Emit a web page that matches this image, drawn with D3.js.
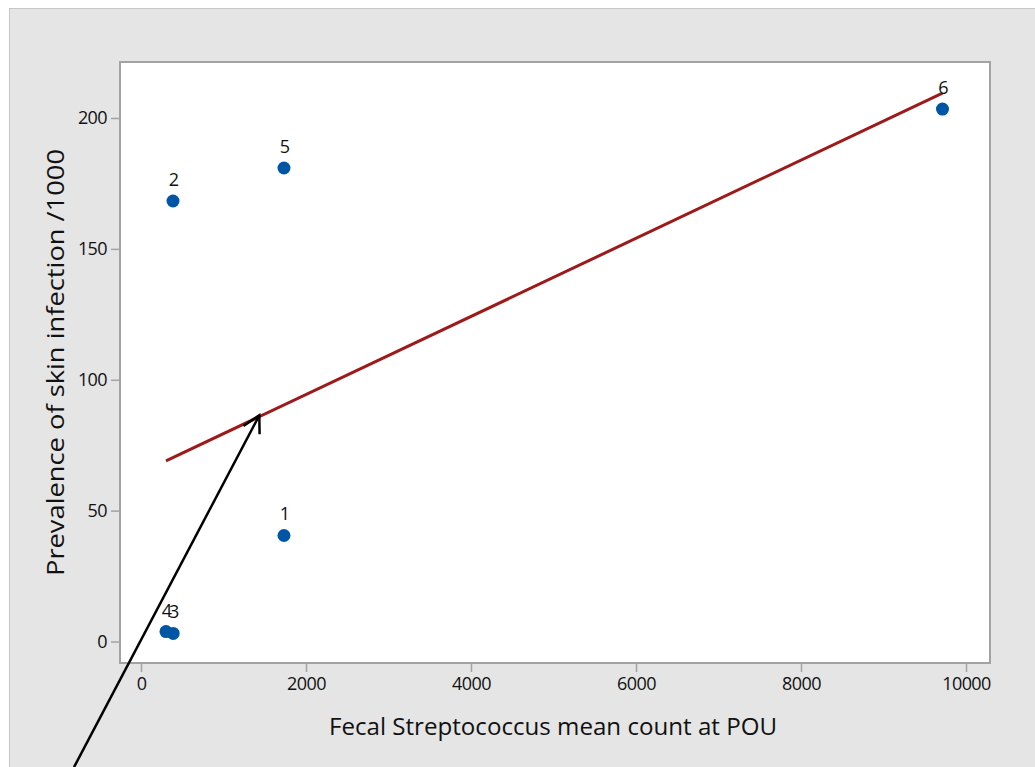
<!DOCTYPE html>
<html><head><meta charset="utf-8">
<script src="https://cdn.jsdelivr.net/npm/d3@7"></script>
<style>html,body{margin:0;padding:0;background:#fff;}svg{display:block;}</style>
</head><body>
<script>
// Data
const pointIds = ["1", "2", "3", "4", "5", "6"];
const xValues = [1733, 388, 390, 303, 1733, 9715];
const yValues = [40.5, 168.3, 3.1, 3.8, 180.9, 203.4];
const fitX = [303, 9715];
const fitY = [69, 209.5];
const xTicks = [0, 2000, 4000, 6000, 8000, 10000];
const yTicks = [0, 50, 100, 150, 200];
const arrowFrom = [-812, -48];
const arrowTo = [1434, 86.4];
const xTitle = "Fecal Streptococcus mean count at POU";
const yTitle = "Prevalence of skin infection /1000";

const W = 1035, H = 767;
const plot = {l: 120, r: 990, t: 62, b: 663};
const font = "'Open Sans', 'Noto Sans', sans-serif";

const svg = d3.select("body").append("svg").attr("width", W).attr("height", H);
svg.append("rect").attr("x", 9.5).attr("y", 8.5).attr("width", W).attr("height", H)
  .attr("fill", "#e5e5e5").attr("stroke", "#c6c6c6").attr("stroke-width", 1);

const x = d3.scaleLinear().domain([0, 10000]).range([141, 966]);
const y = d3.scaleLinear().domain([0, 200]).range([641.5, 118]);

svg.append("rect").attr("x", plot.l).attr("y", plot.t)
  .attr("width", plot.r - plot.l).attr("height", plot.b - plot.t)
  .attr("fill", "#fff").attr("stroke", "#a3a3a3").attr("stroke-width", 2);

// axes
const xAxis = svg.append("g").attr("transform", `translate(0,${plot.b + 1})`)
  .call(d3.axisBottom(x).tickValues(xTicks).tickSize(8).tickPadding(5).tickFormat(d3.format("d")));
const yAxis = svg.append("g").attr("transform", `translate(${plot.l - 1},0)`)
  .call(d3.axisLeft(y).tickValues(yTicks).tickSize(8).tickPadding(4).tickFormat(d3.format("d")));
[xAxis, yAxis].forEach(g => {
  g.select(".domain").remove();
  g.selectAll(".tick line").attr("stroke", "#a3a3a3").attr("stroke-width", 1.5);
  g.selectAll(".tick text").attr("fill", "#111").attr("font-family", font).attr("font-size", 18)
    .attr("letter-spacing", "-0.6px");
});

// regression line
svg.append("line")
  .attr("x1", x(fitX[0])).attr("y1", y(fitY[0]))
  .attr("x2", x(fitX[1])).attr("y2", y(fitY[1]))
  .attr("stroke", "#9e1a1a").attr("stroke-width", 3);

// points
svg.selectAll("circle.pt").data(xValues).enter().append("circle")
  .attr("class", "pt")
  .attr("cx", (d) => x(d)).attr("cy", (d, i) => y(yValues[i]))
  .attr("r", 6.5).attr("fill", "#0055a5");

svg.selectAll("text.lbl").data(pointIds).enter().append("text")
  .attr("class", "lbl")
  .attr("x", (d, i) => x(xValues[i]) + 1).attr("y", (d, i) => y(yValues[i]) - 15)
  .attr("text-anchor", "middle").attr("font-family", font).attr("font-size", 18)
  .attr("fill", "#111").text(d => d);

// titles
svg.append("text").attr("x", (plot.l + plot.r) / 2 - 2).attr("y", 735)
  .attr("text-anchor", "middle").attr("font-family", font).attr("font-size", 23)
  .attr("font-weight", 500)
  .attr("fill", "#111").attr("textLength", 448).attr("lengthAdjust", "spacingAndGlyphs")
  .text(xTitle);
svg.append("text").attr("transform", `translate(64,${(plot.t + plot.b) / 2}) rotate(-90)`)
  .attr("text-anchor", "middle").attr("font-family", font).attr("font-size", 23)
  .attr("font-weight", 500)
  .attr("fill", "#111").attr("textLength", 427).attr("lengthAdjust", "spacingAndGlyphs")
  .text(yTitle);

// arrow annotation
const ax1 = x(arrowFrom[0]), ay1 = y(arrowFrom[1]), ax2 = x(arrowTo[0]), ay2 = y(arrowTo[1]);
svg.append("line").attr("x1", ax1).attr("y1", ay1).attr("x2", ax2).attr("y2", ay2)
  .attr("stroke", "#000").attr("stroke-width", 2.5);
const ang = Math.atan2(ay2 - ay1, ax2 - ax1);
const hl = 19, ha = 0.5;
const barbs = [ang + Math.PI - ha, ang + Math.PI + ha].map(a => [ax2 + hl * Math.cos(a), ay2 + hl * Math.sin(a)]);
svg.append("path")
  .attr("d", `M${barbs[0][0]},${barbs[0][1]}L${ax2},${ay2}L${barbs[1][0]},${barbs[1][1]}`)
  .attr("fill", "none").attr("stroke", "#000").attr("stroke-width", 2.5).attr("stroke-linejoin", "miter");
</script>
</body></html>
